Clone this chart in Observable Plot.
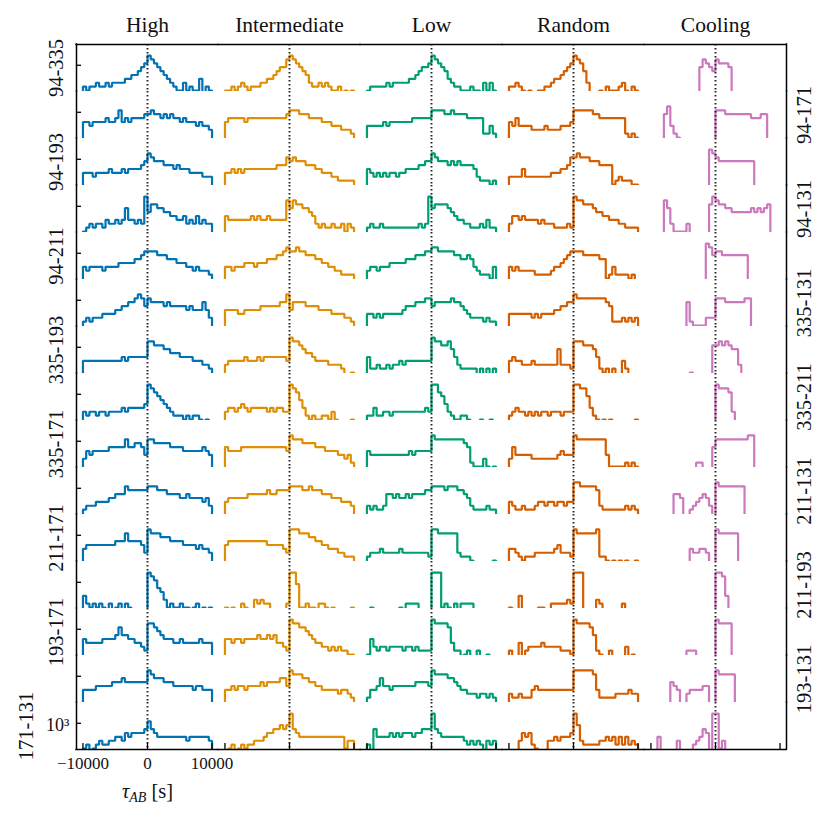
<!DOCTYPE html>
<html><head><meta charset="utf-8">
<script src="https://cdn.jsdelivr.net/npm/d3@7"></script>
<script src="https://cdn.jsdelivr.net/npm/@observablehq/plot@0.6"></script>
<style>body{margin:0;background:#fff}#chart svg{display:block}#chart svg text{font-family:"Liberation Serif","DejaVu Serif",serif}</style>
</head><body><div id="chart"></div>
<script>
// ---- categories ----
const columns = ["High", "Intermediate", "Low", "Random", "Cooling"];
const rowPairs = ["94-335","94-171","94-193","94-131","94-211","335-131","335-193","335-211",
                  "335-171","211-131","211-171","211-193","193-171","193-131","171-131"];
const palette = ["#0173b2", "#de8f05", "#029e73", "#d55e00", "#cc78bc"];
const xTicks = [-10000, 0, 10000];

// ---- series: one string per row, 40 bins from -10000 s to 10000 s; digit = height level, "." = empty bin ----
const high = [
  "1011211212222334456798765432100201003.10",
  "4434444544574545555667665656554544434332",
  "3332333343334344445687666555454443333222",
  "0121221322323633232957766554433423242322",
  "3233332333344444556777766655544433232221",
  "1212223333445566787576666565555545444642",
  "3333333333334344444488777665554444333221",
  "2122122122223233333498765432111010110.0.",
  "2434444455555755665377666665555444444543",
  "1222333344555766666677766655554454444342",
  "3444444444555755554287776665555444434332",
  "3101010.1.01.10.....9875420100100.01.0.0",
  "4333334444575544332188765444334333334333",
  "3333444445556555555587666555444444344333",
  "01.0121122332434444575433333333323333332"
];
const intermediate = [
  "001012101112233456689876542112121001.0.0",
  "4555554555555555555677766655554443332221",
  "3343434444444444555767666555443332211111",
  "4333333343433433333868776654212112112021",
  "3323334443444555667877877666554433221111",
  "4444334444455555566846666555544443333221",
  "2333334333434444444398876554333322221..0",
  "23323432333332323322987531010011020....0",
  "5444455555555555555487776666555444433231",
  "3444444555555655666677776676665554443332",
  "4555555555555444443288877766554433322111",
  "0.0..10..21211.....199600100.110.0.....0",
  "4434434444544545332198877654332212121100",
  "3343443444454555566487776655443333323321",
  ".01.010112223445565695433333333333333022"
];
const low = [
  "01111121222223345667987653211000100.2020",
  "3333343444444455555577776676666555551131",
  "4323232332334444556687666565655554211101",
  "1211211111111111212967777654332211121311",
  "2332333444445556667788777776655653211103",
  "3323233333345556667756666676654322221211",
  "4112112122323333333398877864211111.1.1.1",
  "11311221222222222232997642100110...0..0.",
  "43333333333334344444877777777765100020.0",
  "2121125545445455556677776777665421111211",
  "122232222232222222218877777721110......0",
  ".0........0.1111....999010.1.1111.......",
  "04212212222122121111988887311.01..1..0..",
  "1334644344444445555487777665433222122121",
  "1.5333343434443445559543333333212121.212"
];
const random = [
  "11210.0..0011233456798752...0.1000120.10",
  "4353333222232222333477777766555555551010",
  "2222422222222333445778777666555501211100",
  "2443433332322211112198877765544333221111",
  "323222221111123345677776666655013111101.",
  "3333333232333344556687777777776511121212",
  "3433222322222226222188877764101.1..31...",
  "1232212121221222122299886310.0.0.......0",
  "2533333222222223433387777777773000001010",
  "3211211123323323323388777776211111112121",
  "3321011122222234222187777778110.0.0.0..0",
  "0..3.....00..1111121999....21......1....",
  "1..3.122223222221110988887510..1....2.0.",
  "2112111343333333333388888873111112222322",
  "...243410...2232333496211111223231313121"
];
const cooling = [
  "...............6876587776...............",
  "....68310...........7776666666655566....",
  "..................98766666666666........",
  "....86200002......7987766555555656567...",
  ".................9867766666666..........",
  "...........61000022277766666677.........",
  "............0......778787662............",
  "....................988872..............",
  "..............11...5777777777788........",
  ".......554..1234542.877777777...........",
  "............322332..8777777.............",
  "....................9983................",
  "...........111......98888...............",
  "......543..2333344..877777..............",
  "..3.....2....12354.9902................."
];

// ---- build the table ----
const belowAxis = -10;            // empty bin (log of zero) falls below the panel
const tauMin = -10000, tauMax = 10000;
const series = {High: high, Intermediate: intermediate, Low: low, Random: random, Cooling: cooling};
const levelOf = ch => ch === "." ? belowAxis : +ch;
const points = [];
columns.forEach(col => series[col].forEach((s, ri) => {
  const row = rowPairs[ri], id = col + "|" + row;
  const n = s.length, w = (tauMax - tauMin) / n;
  points.push({col, row, id, tau: tauMin, level: belowAxis});
  for (let i = 0; i < n; i++) points.push({col, row, id, tau: tauMin + i * w, level: levelOf(s[i])});
  points.push({col, row, id, tau: tauMax, level: levelOf(s[n - 1])});
  points.push({col, row, id, tau: tauMax, level: belowAxis});
}));

const xDomain = [-11000, 11000];
const yDomain = [-0.26, 11.86];
const tick1e3 = 6.5;
const tickLenX = 780, tickLenY = 1.55;
const serif = "Liberation Serif";
const firstCol = columns[0], lastCol = columns[columns.length - 1];
const topRow = rowPairs[0], bottomRow = rowPairs[rowPairs.length - 1];
const leftLabels = rowPairs.filter((d, i) => i % 2 === 0 && i < rowPairs.length - 1);
const rightLabels = rowPairs.filter((d, i) => i % 2 === 1);
const bottomTicks = columns.flatMap(col => xTicks.map(t => ({col, t})));
const fmt = d => d < 0 ? "\u2212" + Math.abs(d) : String(d);
const txt = {fontFamily: serif, fill: "#111"};

const chart = Plot.plot({
  width: 831, height: 818,
  marginLeft: 75, marginRight: 43.5, marginTop: 42.3, marginBottom: 67,
  style: {background: "#fff", overflow: "visible"},
  fx: {domain: columns, padding: 0, axis: null},
  fy: {domain: rowPairs, padding: 0, axis: null},
  x: {domain: xDomain, axis: null},
  y: {domain: yDomain, axis: null},
  color: {domain: columns, range: palette},
  marks: [
    Plot.line(points, {x: "tau", y: "level", z: "id", stroke: "col", fx: "col", fy: "row",
      curve: "step-after", strokeWidth: 2.2, strokeLinejoin: "miter", clip: true}),
    Plot.ruleX([0], {stroke: "#222", strokeWidth: 1.9, strokeDasharray: "1.5,2.5"}),
    // outer frame
    Plot.ruleY(columns, {fx: d => d, fy: () => topRow, y: yDomain[1], stroke: "#000", strokeWidth: 1.5, strokeLinecap: "square"}),
    Plot.ruleY(columns, {fx: d => d, fy: () => bottomRow, y: yDomain[0], stroke: "#000", strokeWidth: 1.5, strokeLinecap: "square"}),
    Plot.ruleX(rowPairs, {fx: () => firstCol, fy: d => d, x: xDomain[0], stroke: "#000", strokeWidth: 1.5, strokeLinecap: "square"}),
    Plot.ruleX(rowPairs, {fx: () => lastCol, fy: d => d, x: xDomain[1], stroke: "#000", strokeWidth: 1.5, strokeLinecap: "square"}),
    // y ticks (10^3) on the left spine
    Plot.ruleY(rowPairs, {fx: () => firstCol, fy: d => d, y: tick1e3, x1: xDomain[0], x2: xDomain[0] + tickLenX, stroke: "#000", strokeWidth: 1.3}),
    // x ticks on the bottom spine
    Plot.ruleX(bottomTicks, {fx: "col", fy: () => bottomRow, x: "t", y1: yDomain[0], y2: yDomain[0] + tickLenY, stroke: "#000", strokeWidth: 1.3}),
    // tick labels
    Plot.text(xTicks, {fx: () => firstCol, fy: () => bottomRow, x: d => d, text: fmt, frameAnchor: "bottom", lineAnchor: "middle", textAnchor: "middle", dy: 14, fontSize: 17, ...txt}),
    Plot.text(["10\u00b3"], {fx: () => firstCol, fy: () => bottomRow, x: xDomain[0], y: tick1e3, text: d => d, textAnchor: "end", lineAnchor: "middle", dx: -7, dy: 2, fontSize: 18, ...txt}),
    Plot.text(["\u03c4AB [s]"], {fx: () => firstCol, fy: () => bottomRow, x: 0, text: d => d, frameAnchor: "bottom", lineAnchor: "middle", textAnchor: "middle", dy: 42, fontSize: 20.5, ...txt}),
    // column titles
    Plot.text(columns, {fx: d => d, fy: () => topRow, text: d => d, frameAnchor: "top", lineAnchor: "middle", textAnchor: "middle", dy: -19, fontSize: 21.5, ...txt}),
    // row labels
    Plot.text(leftLabels, {fx: () => firstCol, fy: d => d, text: d => d, frameAnchor: "left", textAnchor: "middle", lineAnchor: "middle", dx: -20, rotate: -90, fontSize: 20.5, ...txt}),
    Plot.text([bottomRow], {fx: () => firstCol, fy: d => d, text: d => d, frameAnchor: "left", textAnchor: "middle", lineAnchor: "middle", dx: -50, rotate: -90, fontSize: 20.5, ...txt}),
    Plot.text(rightLabels, {fx: () => lastCol, fy: d => d, text: d => d, frameAnchor: "right", textAnchor: "middle", lineAnchor: "middle", dx: 18, rotate: -90, fontSize: 20.5, ...txt})
  ]
});
document.getElementById("chart").append(chart);

// italic tau with subscript AB
const NS = "http://www.w3.org/2000/svg";
chart.querySelectorAll("text").forEach(t => {
  if (t.textContent === "\u03c4AB [s]") {
    t.textContent = "";
    const a = document.createElementNS(NS, "tspan"); a.textContent = "\u03c4"; a.setAttribute("font-style", "italic");
    const b = document.createElementNS(NS, "tspan"); b.textContent = "AB"; b.setAttribute("font-style", "italic");
    b.setAttribute("font-size", "14"); b.setAttribute("dy", "4");
    const c = document.createElementNS(NS, "tspan"); c.textContent = " [s]"; c.setAttribute("dy", "-4");
    t.append(a, b, c);
  }
});
</script></body></html>
